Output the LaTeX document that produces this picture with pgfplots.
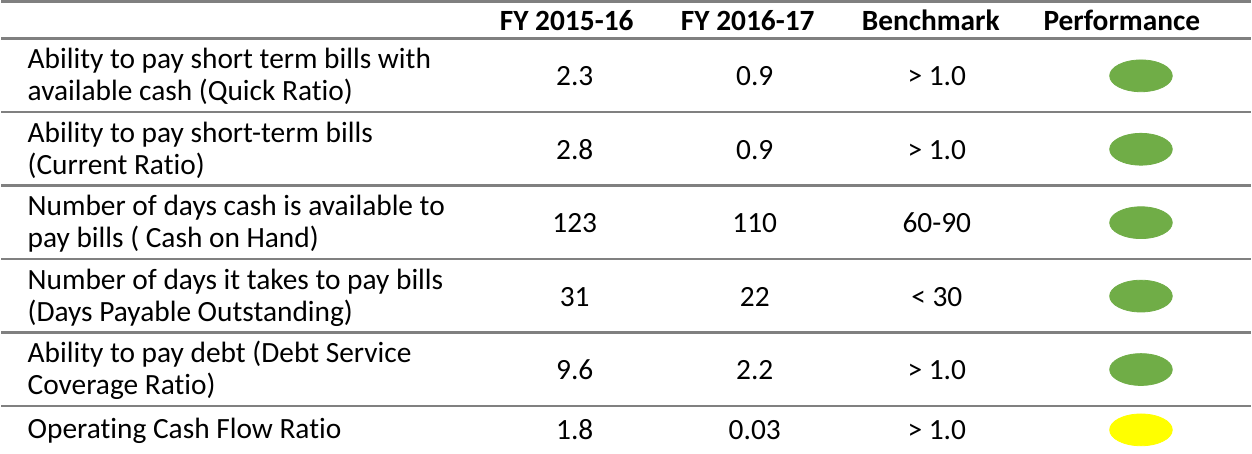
\documentclass[border=0pt]{standalone}
\usepackage{pgfplots}
\pgfplotsset{compat=1.18}
\usepackage{fontspec}
\setmainfont{Carlito}[Ligatures={NoCommon}]
\definecolor{okgreen}{HTML}{70AD47}
\definecolor{okyellow}{HTML}{FFFF00}
\definecolor{rule}{HTML}{808080}
\begin{document}
\begin{tikzpicture}
\begin{axis}[
  width=626pt, height=227pt, scale only axis,
  xmin=0, xmax=1252, ymin=0, ymax=454, y dir=reverse,
  hide axis, clip=false,
]
\fontsize{14.6}{16}\selectfont
% rules
\draw[rule, line width=1.4pt] (axis cs:10,10) -- (axis cs:1252,10);
\draw[rule, line width=1.4pt] (axis cs:10,47) -- (axis cs:1252,47);
\draw[rule, line width=1.2pt] (axis cs:10,120) -- (axis cs:1252,120);
\draw[rule, line width=1.2pt] (axis cs:10,193) -- (axis cs:1252,193);
\draw[rule, line width=1.2pt] (axis cs:10,266) -- (axis cs:1252,266);
\draw[rule, line width=1.2pt] (axis cs:10,339) -- (axis cs:1252,339);
\draw[rule, line width=1.2pt] (axis cs:10,412) -- (axis cs:1252,412);
% header
\node[anchor=base, font=\bfseries] at (axis cs:572,39) {FY 2015-16};
\node[anchor=base, font=\bfseries] at (axis cs:752,39) {FY 2016-17};
\node[anchor=base, font=\bfseries] at (axis cs:934,39) {Benchmark};
\node[anchor=base, font=\bfseries] at (axis cs:1124,39) {Performance};
% first column
\node[anchor=base west] at (axis cs:26,77) {Ability to pay short term bills with};
\node[anchor=base west] at (axis cs:26,109) {available cash (Quick Ratio)};
\node[anchor=base west] at (axis cs:26,150) {Ability to pay short-term bills};
\node[anchor=base west] at (axis cs:26,182) {(Current Ratio)};
\node[anchor=base west] at (axis cs:26,223) {Number of days cash is available to};
\node[anchor=base west] at (axis cs:26,255) {pay bills ( Cash on Hand)};
\node[anchor=base west] at (axis cs:26,296) {Number of days it takes to pay bills};
\node[anchor=base west] at (axis cs:26,328) {(Days Payable Outstanding)};
\node[anchor=base west] at (axis cs:26,369) {Ability to pay debt (Debt Service};
\node[anchor=base west] at (axis cs:26,401) {Coverage Ratio)};
\node[anchor=base west] at (axis cs:26,445) {Operating Cash Flow Ratio};
% values
\node[anchor=base] at (axis cs:580,94) {2.3};
\node[anchor=base] at (axis cs:759,94) {0.9};
\node[anchor=base] at (axis cs:940,94) {> 1.0};
\node[anchor=base] at (axis cs:580,167) {2.8};
\node[anchor=base] at (axis cs:759,167) {0.9};
\node[anchor=base] at (axis cs:940,167) {> 1.0};
\node[anchor=base] at (axis cs:580,240) {123};
\node[anchor=base] at (axis cs:759,240) {110};
\node[anchor=base] at (axis cs:940,240) {60-90};
\node[anchor=base] at (axis cs:580,313) {31};
\node[anchor=base] at (axis cs:759,313) {22};
\node[anchor=base] at (axis cs:940,313) {< 30};
\node[anchor=base] at (axis cs:580,386) {9.6};
\node[anchor=base] at (axis cs:759,386) {2.2};
\node[anchor=base] at (axis cs:940,386) {> 1.0};
\node[anchor=base] at (axis cs:580,446) {1.8};
\node[anchor=base] at (axis cs:759,446) {0.03};
\node[anchor=base] at (axis cs:940,446) {> 1.0};
% performance markers
\addplot[only marks, mark=*, mark size=7.9pt, color=okgreen,
  mark options={xscale=1.97, draw=none, fill=okgreen}]
  coordinates {(1143,84) (1143,157) (1143,230) (1143,303) (1143,376)};
\addplot[only marks, mark=*, mark size=7.9pt, color=okyellow,
  mark options={xscale=1.97, draw=none, fill=okyellow}]
  coordinates {(1143,436)};
\end{axis}
\end{tikzpicture}
\end{document}
